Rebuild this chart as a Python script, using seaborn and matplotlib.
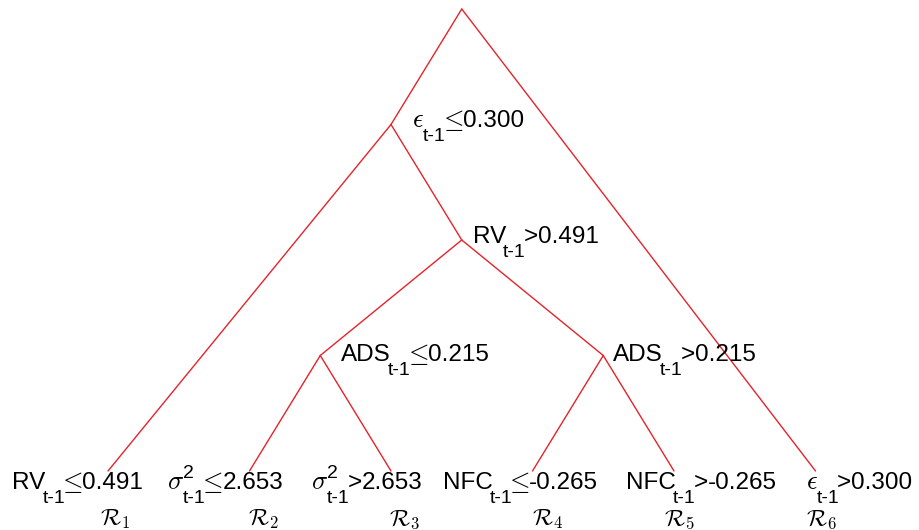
import matplotlib
matplotlib.use("Agg")
import matplotlib.pyplot as plt
from matplotlib.transforms import IdentityTransform
import pandas as pd
import seaborn as sns

# Tree structure: horizontal slot and depth of each node, and its parent index
node_x = [3.5, 3.0, 3.5, 2.5, 4.5, 1, 2, 3, 4, 5, 6]
node_depth = [4, 3, 2, 1, 1, 0, 0, 0, 0, 0, 0]
node_parent = [-1, 0, 1, 2, 2, 1, 3, 3, 4, 4, 0]

# Split rules at the internal nodes: variable, power, relation, threshold
split_nodes = [1, 2, 3, 4]
split_var = [r"$\epsilon$", "RV", "ADS", "ADS"]
split_pow = ["", "", "", ""]
split_rel = ["≤", ">", "≤", ">"]
split_val = ["0.300", "0.491", "0.215", "0.215"]

# Rules defining the terminal regions
leaf_nodes = [5, 6, 7, 8, 9, 10]
leaf_var = ["RV", r"$\sigma$", r"$\sigma$", "NFC", "NFC", r"$\epsilon$"]
leaf_pow = ["", "2", "2", "", "", ""]
leaf_rel = ["≤", "≤", ">", "≤", ">", ">"]
leaf_val = ["0.491", "2.653", "2.653", "-0.265", "-0.265", "0.300"]
region_labels = [r"$\mathcal{R}_{%d}$" % i for i in range(1, 7)]

LAG = "t-1"

# Label placement: pixel offsets of (left edge, baseline) from each node
split_offsets = [(21, -3), (11, -3), (21, -5), (10, -5)]
rule_offsets = [(-96, -18), (-83, -18), (-80, -18), (-90, -18), (-48, -18), (-10, -18)]
region_offsets = [(-8, -54), (-2, -54), (-2, -54), (-1, -54), (-10, -54), (-10, -54)]

FS_MAIN = 17.5
FS_GREEK = 19
FS_REL = 19
FS_SCRIPT = 14
FS_REGION = 17
SUB_DROP = -14
SUP_RISE = 11

sns.set_theme(style="white")
plt.rcParams["font.family"] = ["Liberation Sans", "DejaVu Sans"]
plt.rcParams["mathtext.fontset"] = "cm"

rows = []
for child, par in enumerate(node_parent):
    if par < 0:
        continue
    rows.append({"edge": child, "x": node_x[par], "y": node_depth[par]})
    rows.append({"edge": child, "x": node_x[child], "y": node_depth[child]})
edges = pd.DataFrame(rows)

fig = plt.figure(figsize=(9.19, 5.30), dpi=100)
ax = fig.add_axes([0, 0, 1, 1])

sns.lineplot(data=edges, x="x", y="y", units="edge", estimator=None, sort=False,
             color="#e3242b", linewidth=1.0, legend=False, ax=ax)

ax.set_xlim(0.2367, 6.7314)
ax.set_ylim(-0.5108, 4.0779)
ax.axis("off")

renderer = fig.canvas.get_renderer()


def rule_pieces(var, power, rel, val):
    """Split a rule into (text, size, rise, advances, gap) runs."""
    greek = var.startswith("$")
    pieces = [(var, FS_GREEK if greek else FS_MAIN, 0, True, -1 if greek else -3)]
    if power:
        pieces.append((power, FS_SCRIPT, SUP_RISE, False, 0))
    if rel == "≤":
        pieces.append((LAG, FS_SCRIPT, SUB_DROP, True, -3))
        pieces.append((r"$\!\leq\!$", FS_REL, 0, True, -1))
    else:
        pieces.append((LAG, FS_SCRIPT, SUB_DROP, True, -2))
        pieces.append((rel, FS_MAIN, 0, True, 0))
    pieces.append((val, FS_MAIN, 0, True, 0))
    return pieces


def draw_runs(node, offset, pieces):
    px, py = ax.transData.transform((node_x[node], node_depth[node]))
    x = px + offset[0]
    base = py + offset[1]
    for text, size, rise, advance, gap in pieces:
        t = ax.text(x, base + rise, text, transform=IdentityTransform(),
                    fontsize=size, ha="left", va="baseline", color="black")
        if advance:
            x = t.get_window_extent(renderer).x1 + gap


for n, v, p, r, val, off in zip(split_nodes, split_var, split_pow, split_rel,
                                split_val, split_offsets):
    draw_runs(n, off, rule_pieces(v, p, r, val))

for n, v, p, r, val, off in zip(leaf_nodes, leaf_var, leaf_pow, leaf_rel,
                                leaf_val, rule_offsets):
    draw_runs(n, off, rule_pieces(v, p, r, val))

for n, lab, off in zip(leaf_nodes, region_labels, region_offsets):
    draw_runs(n, off, [(lab, FS_REGION, 0, False, 0)])

fig.savefig("out.png", dpi=100, facecolor="white")
